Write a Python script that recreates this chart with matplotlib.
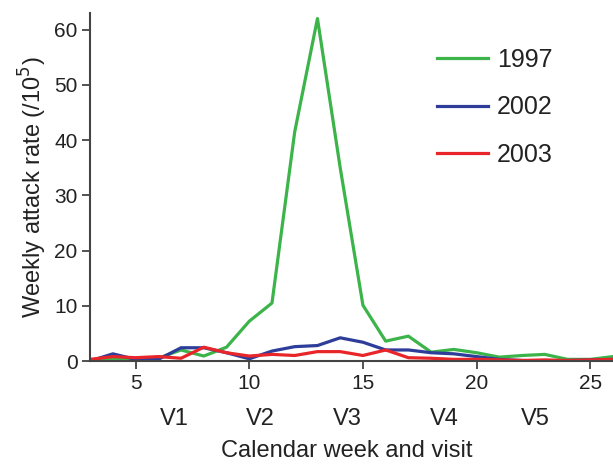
import matplotlib
matplotlib.use("Agg")
import matplotlib.pyplot as plt

plt.rcParams['font.family'] = ['Liberation Sans', 'DejaVu Sans']

weeks = list(range(3, 27))
rate_1997 = [0.0, 0.4, 0.3, 0.5, 2.0, 0.9, 2.5, 7.2, 10.5, 41.5, 62.0, 35.0,
             10.1, 3.6, 4.5, 1.6, 2.1, 1.5, 0.7, 1.0, 1.2, 0.3, 0.3, 0.8]
rate_2002 = [0.0, 1.3, 0.3, 0.3, 2.4, 2.4, 1.5, 0.4, 1.8, 2.6, 2.8, 4.2,
             3.4, 2.0, 2.0, 1.5, 1.3, 0.8, 0.3, 0.1, 0.0, 0.1, 0.2, 0.3]
rate_2003 = [0.3, 0.8, 0.6, 0.8, 0.5, 2.5, 1.5, 0.9, 1.2, 1.0, 1.7, 1.7,
             1.0, 2.0, 0.6, 0.5, 0.3, 0.3, 0.2, 0.1, 0.2, 0.1, 0.2, 0.3]

visits = ['V1', 'V2', 'V3', 'V4', 'V5']
visit_weeks = [6.7, 10.5, 14.3, 18.6, 22.6]

fig = plt.figure(figsize=(6.13, 4.68), dpi=100)
ax = fig.add_axes([0.147, 0.2286, 0.853, 0.7436])

ax.plot(weeks, rate_1997, color='#3cb44a', lw=2.3, label='1997')
ax.plot(weeks, rate_2002, color='#2e3d9a', lw=2.3, label='2002')
ax.plot(weeks, rate_2003, color='#e8262a', lw=2.3, label='2003')

ax.set_xlim(3, 26)
ax.set_ylim(0, 63)
ax.set_xticks([5, 10, 15, 20, 25])
ax.set_yticks([0, 10, 20, 30, 40, 50, 60])
ax.tick_params(labelsize=15, length=6, width=1.3, color='#444444', pad=3,
               labelcolor='#222222')

for s in ['top', 'right']:
    ax.spines[s].set_visible(False)
for s in ['left', 'bottom']:
    ax.spines[s].set_linewidth(1.5)
    ax.spines[s].set_color('#444444')

for v, w in zip(visits, visit_weeks):
    ax.text(w, -0.166, v, transform=ax.get_xaxis_transform(),
            ha='center', va='center', fontsize=17, color='#222222')

ax.set_xlabel('Calendar week and visit', fontsize=17, color='#222222')
ax.xaxis.set_label_coords(0.49, -0.228)
ax.set_ylabel('Weekly attack rate (/10$^5$)', fontsize=17, labelpad=4,
              color='#222222')

leg = ax.legend(loc='upper left', bbox_to_anchor=(0.644, 0.929),
                borderaxespad=0, frameon=False, fontsize=18,
                handlelength=2.05, labelspacing=0.95, handletextpad=0.36)
for t in leg.get_texts():
    t.set_color('#222222')

fig.savefig('out.png', dpi=100)
